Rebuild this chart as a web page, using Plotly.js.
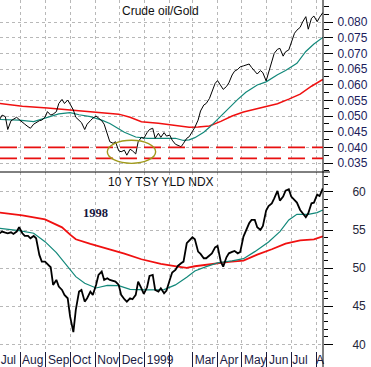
<!DOCTYPE html>
<html><head><meta charset="utf-8">
<script src="https://cdn.plot.ly/plotly-3.0.1.min.js"></script>
<style>html,body{margin:0;padding:0;background:#fff;}#chart{width:371px;height:367px;}</style>
</head><body><div id="chart"></div>
<script>
// ---------- data ----------
const dates = [
"1998-07-06","1998-07-09","1998-07-13","1998-07-16","1998-07-20","1998-07-23","1998-07-27","1998-07-30",
"1998-08-03","1998-08-06","1998-08-10","1998-08-13","1998-08-17","1998-08-20","1998-08-24","1998-08-27",
"1998-08-31","1998-09-03","1998-09-07","1998-09-10","1998-09-14","1998-09-17","1998-09-21","1998-09-24",
"1998-09-28","1998-10-01","1998-10-05","1998-10-08","1998-10-12","1998-10-15","1998-10-19","1998-10-22",
"1998-10-26","1998-10-29","1998-11-02","1998-11-05","1998-11-09","1998-11-12","1998-11-16","1998-11-19",
"1998-11-23","1998-11-26","1998-11-30","1998-12-03","1998-12-07","1998-12-10","1998-12-14","1998-12-17",
"1998-12-21","1998-12-24","1998-12-28","1998-12-31","1999-01-04","1999-01-07","1999-01-11","1999-01-14",
"1999-01-18","1999-01-21","1999-01-25","1999-01-28","1999-02-01","1999-02-04","1999-02-08","1999-02-11",
"1999-02-15","1999-02-18","1999-02-22","1999-02-25","1999-03-01","1999-03-04","1999-03-08","1999-03-11",
"1999-03-15","1999-03-18","1999-03-22","1999-03-25","1999-03-29","1999-04-01","1999-04-05","1999-04-08",
"1999-04-12","1999-04-15","1999-04-19","1999-04-22","1999-04-26","1999-04-29","1999-05-03","1999-05-06",
"1999-05-10","1999-05-13","1999-05-17","1999-05-20","1999-05-24","1999-05-27","1999-05-31","1999-06-03",
"1999-06-07","1999-06-10","1999-06-14","1999-06-17","1999-06-21","1999-06-24","1999-06-28","1999-07-01",
"1999-07-05","1999-07-08","1999-07-12","1999-07-15","1999-07-19","1999-07-22","1999-07-26","1999-07-29",
"1999-08-02","1999-08-05","1999-08-09"];

const oilGold = [
0.0489,0.0503, 0.0498,0.0457, 0.0485,0.0489, 0.0496,0.0489,
0.0479,0.0474, 0.0466,0.0461, 0.0474,0.0479, 0.0485,0.0487,
0.0496,0.0514, 0.0503,0.0506, 0.0514,0.0540, 0.0553,0.0540,
0.0551,0.0538, 0.0519,0.0496, 0.0485,0.0479, 0.0457,0.0474,
0.0485,0.0493, 0.0500,0.0493, 0.0485,0.0474, 0.0439,0.0418,
0.0413,0.0418, 0.0389,0.0386, 0.0391,0.0375, 0.0394,0.0389,
0.0379,0.0418, 0.0432,0.0429, 0.0447,0.0457, 0.0461,0.0429,
0.0445,0.0432, 0.0447,0.0436, 0.0439,0.0423, 0.0410,0.0407,
0.0402,0.0413, 0.0429,0.0434, 0.0450,0.0464, 0.0487,0.0516,
0.0535,0.0540, 0.0556,0.0574, 0.0604,0.0613, 0.0596,0.0585,
0.0594,0.0606, 0.0631,0.0643, 0.0649,0.0657, 0.0660,0.0662,
0.0666,0.0655, 0.0641,0.0634, 0.0645,0.0638, 0.0612,0.0641,
0.0679,0.0700, 0.0713,0.0716, 0.0691,0.0705, 0.0711,0.0734,
0.0764,0.0774, 0.0783,0.0800, 0.0817,0.0777, 0.0812,0.0819,
0.0801,0.0815, 0.0830];

const tsyYield = [
54.58,54.80, 54.66,54.58, 54.71,54.49, 54.80,55.37,
54.58,54.23, 54.23,53.92, 54.23,53.92, 51.74,50.86,
50.86,50.55, 50.12,47.80, 48.46,47.58, 47.14,46.49,
46.05,43.64, 41.60,44.52, 46.92,47.14, 45.61,46.05,
46.92,46.49, 47.80,49.11, 49.55,48.46, 48.67,48.46,
48.32,48.24, 47.80,46.49, 45.92,45.61, 46.05,45.92,
46.49,48.24, 47.36,46.62, 47.49,48.98, 49.11,47.14,
46.92,47.36, 46.71,47.06, 48.46,49.42, 49.77,50.29,
50.64,50.86, 53.27,53.62, 54.05,53.79, 52.17,51.87,
51.30,51.30, 51.74,51.95, 52.74,52.92, 50.86,50.20,
51.43,51.95, 52.13,52.26, 51.95,52.13, 54.14,54.88,
55.89,56.33, 56.33,55.37, 55.01,55.54, 57.55,58.16,
58.51,59.17, 60.13,58.86, 59.39,60.17, 60.35,59.39,
58.86,58.60, 57.64,57.20, 56.68,57.20, 58.51,58.60,
59.65,59.47, 60.48];

const oilGoldMaShortDates = ["1998-07-06","1998-07-30","1998-08-17","1998-09-03","1998-09-17","1998-10-01","1998-10-12","1998-10-26","1998-11-09","1998-11-19","1998-11-26","1998-12-07","1998-12-21","1999-01-04","1999-01-21","1999-02-08","1999-02-18","1999-02-25","1999-03-04","1999-03-15","1999-03-22","1999-03-29","1999-04-12","1999-04-26","1999-05-06","1999-05-20","1999-05-31","1999-06-14","1999-06-24","1999-07-08","1999-07-19","1999-07-29","1999-08-09"];
const oilGoldMaShort = [0.0489,0.0487,0.0482,0.0496,0.0507,0.0511,0.0504,0.0498,0.0487,0.0476,0.0466,0.0448,0.0433,0.0429,0.0429,0.0429,0.0422,0.0424,0.0431,0.0448,0.0464,0.0482,0.0518,0.0553,0.0576,0.0599,0.0609,0.0632,0.0645,0.0668,0.0706,0.0730,0.0751];

const oilGoldMaLongDates = ["1998-07-06","1998-08-03","1998-09-03","1998-10-01","1998-11-02","1998-11-30","1998-12-14","1998-12-28","1999-01-18","1999-02-08","1999-02-25","1999-03-08","1999-03-22","1999-04-05","1999-04-19","1999-05-03","1999-05-24","1999-06-14","1999-06-28","1999-07-12","1999-07-26","1999-08-09"];
const oilGoldMaLong = [0.0540,0.0531,0.0526,0.0520,0.0514,0.0506,0.0496,0.0482,0.0477,0.0469,0.0464,0.0465,0.0468,0.0483,0.0500,0.0513,0.0526,0.0539,0.0554,0.0570,0.0595,0.0617];

const yieldMaShortDates = ["1998-07-06","1998-07-30","1998-08-17","1998-08-31","1998-09-14","1998-09-28","1998-10-08","1998-10-19","1998-11-02","1998-11-16","1998-11-30","1998-12-14","1999-01-04","1999-01-25","1999-02-08","1999-02-22","1999-03-04","1999-03-18","1999-04-01","1999-04-19","1999-05-03","1999-05-17","1999-06-03","1999-06-17","1999-06-28","1999-07-08","1999-07-22","1999-08-02","1999-08-09"];
const yieldMaShort = [55.23,54.93,54.58,53.48,52.04,50.29,48.89,48.02,47.40,47.75,47.71,47.23,47.14,47.19,47.80,48.80,49.64,50.20,50.69,50.95,51.25,52.17,53.44,54.80,56.33,57.07,57.07,57.29,57.64];

const yieldMaLongDates = ["1998-07-06","1998-08-03","1998-08-31","1998-09-21","1998-10-01","1998-10-08","1998-10-26","1998-11-16","1998-12-07","1998-12-28","1999-01-21","1999-02-11","1999-02-22","1999-03-04","1999-03-25","1999-04-15","1999-05-03","1999-05-20","1999-06-07","1999-06-24","1999-07-12","1999-07-29","1999-08-09"];
const yieldMaLong = [57.29,56.94,56.41,55.36,54.40,53.79,53.18,52.57,51.91,51.17,50.55,50.20,50.03,50.25,50.55,50.82,50.99,51.78,52.48,53.22,53.66,53.79,54.18];

const supportLevels = [0.040, 0.0365];

const monthStarts = ["1998-08-01","1998-09-01","1998-10-01","1998-11-01","1998-12-01","1999-01-01","1999-02-01","1999-03-01","1999-04-01","1999-05-01","1999-06-01","1999-07-01","1999-08-01"];
const monthLabels = ["Jul","Aug","Sep","Oct","Nov","Dec","1999","Mar","Apr","May","Jun","Jul","A"];
const monthLabelAt = ["1998-07-16 16:00","1998-08-15 17:00","1998-09-16 19:00","1998-10-15 05:00","1998-11-16 19:00","1998-12-16 19:00","1999-01-20 02:00","1999-03-16 12:00","1999-04-15 05:00","1999-05-17 14:00","1999-06-15 12:00","1999-07-11 19:00","1999-08-05 12:00"];
const ratioTicks = [0.035,0.040,0.045,0.050,0.055,0.060,0.065,0.070,0.075,0.080];

// ---------- chart ----------
const xRange = ["1998-07-06 10:00","1999-08-09 05:00"];
const split = 179/351;
const FONT = 'Arial, "Liberation Sans", sans-serif';
const teal = '#12887a', red = '#f01010';
const grid = {showgrid:true, gridcolor:'#b8b8b8', griddash:'3px,3px', gridwidth:1, zeroline:false, showline:false};
const minorTop = []; for (let v = 0.0325; v < 0.0871; v += 0.0025) minorTop.push(+v.toFixed(4));

const traces = [
 {x:oilGoldMaLongDates, y:oilGoldMaLong, xaxis:'x2', yaxis:'y2', mode:'lines', line:{color:red, width:1.5}},
 {x:oilGoldMaShortDates, y:oilGoldMaShort, xaxis:'x2', yaxis:'y2', mode:'lines', line:{color:teal, width:1.2}},
 {x:dates, y:oilGold, xaxis:'x2', yaxis:'y2', mode:'lines', line:{color:'#000', width:1}},
 {x:yieldMaLongDates, y:yieldMaLong, xaxis:'x', yaxis:'y', mode:'lines', line:{color:red, width:1.8}},
 {x:yieldMaShortDates, y:yieldMaShort, xaxis:'x', yaxis:'y', mode:'lines', line:{color:teal, width:1.2}},
 {x:dates, y:tsyYield, xaxis:'x', yaxis:'y', mode:'lines', line:{color:'#000', width:1.8}},
 {x:[], y:[], xaxis:'x3', yaxis:'y', mode:'lines', hoverinfo:'skip'}
];

const layout = {
 width:371, height:367, margin:{l:0, r:48, t:0, b:16},
 paper_bgcolor:'#fff', plot_bgcolor:'#fff', showlegend:false,
 font:{family:FONT, size:12, color:'#000'},
 xaxis: Object.assign({type:'date', range:xRange, anchor:'y', tickmode:'array', tickvals:monthStarts,
   showticklabels:false, ticks:'outside', ticklen:17, tickcolor:'#1a1a3a', tickwidth:1, fixedrange:true}, grid),
 xaxis2: Object.assign({type:'date', range:xRange, anchor:'y2', tickmode:'array', tickvals:monthStarts,
   showticklabels:false, ticks:''}, grid),
 xaxis3: {type:'date', range:xRange, overlaying:'x', anchor:'y', side:'bottom', tickmode:'array',
   tickvals:monthLabelAt, ticktext:monthLabels, ticks:'', showgrid:false, zeroline:false, showline:false,
   ticklabeloverflow:'allow', tickfont:{family:FONT, size:12, color:'#1c1c44'}},
 yaxis: Object.assign({domain:[0, split], range:[39.13, 62.62], side:'right', anchor:'x', tickmode:'linear',
   tick0:40, dtick:5, ticks:'outside', ticklen:9, tickcolor:'#000', tickwidth:1,
   minor:{tickmode:'linear', tick0:40, dtick:1, ticks:'outside', ticklen:4, tickcolor:'#000', showgrid:false},
   tickfont:{family:FONT, size:12, color:'#26263a'}, ticklabelstandoff:17}, grid),
 yaxis2: Object.assign({domain:[split, 1], range:[0.03214, 0.08702], side:'right', anchor:'x2', tickmode:'array',
   tickvals:ratioTicks, tickformat:'.3f', ticks:'outside', ticklen:9, tickcolor:'#000', tickwidth:1,
   minor:{tickmode:'array', tickvals:minorTop, ticks:'outside', ticklen:5, tickcolor:'#000', showgrid:false},
   tickfont:{family:FONT, size:12, color:'#1c1c5c'}, ticklabelstandoff:2}, grid),
 shapes: [
  {type:'line', xref:'paper', yref:'paper', x0:1, x1:1, y0:-16/351, y1:1, line:{color:'#000', width:1}},
  {type:'line', xref:'paper', yref:'paper', x0:0, x1:1+7/323, y0:split, y1:split, line:{color:'#000', width:1}},
  ...supportLevels.map(v => ({type:'line', xref:'paper', yref:'y2', x0:0, x1:1, y0:v, y1:v,
    line:{color:'#e81010', width:1.8, dash:'17px,7px'}})),
  {type:'circle', xref:'x2', yref:'y2', x0:'1998-11-15 22:00', x1:'1999-01-14 14:00', y0:0.03490, y1:0.04225,
   line:{color:'#a09a1c', width:1.4}}
 ],
 annotations: [
  {text:'Crude oil/Gold', xref:'paper', yref:'paper', x:160.5/323, y:(351-11)/351, showarrow:false,
   xanchor:'center', yanchor:'middle', font:{family:FONT, size:12, color:'#111'}},
  {text:'10 Y TSY YLD NDX', xref:'paper', yref:'paper', x:161/323, y:(351-182.3)/351, showarrow:false,
   xanchor:'center', yanchor:'middle', font:{family:FONT, size:12, color:'#111'}},
  {text:'<b>1998</b>', xref:'paper', yref:'paper', x:95/323, y:(351-212.7)/351, showarrow:false,
   xanchor:'center', yanchor:'middle', font:{family:'"Times New Roman", "Liberation Serif", serif', size:12.5, color:'#16163c'}}
 ]
};

Plotly.newPlot('chart', traces, layout, {staticPlot:true, displayModeBar:false});
</script></body></html>
